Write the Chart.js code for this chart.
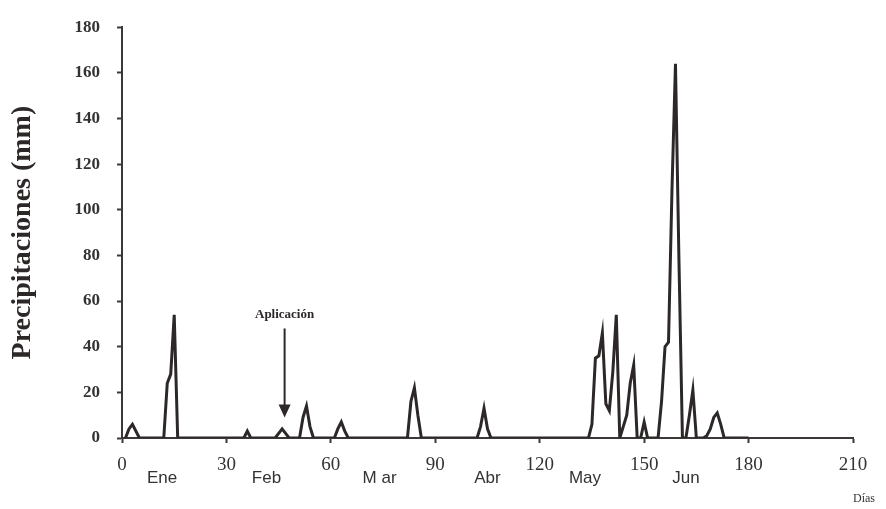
<!DOCTYPE html>
<html lang="es">
<head>
    <meta charset="UTF-8">
    <title>Precipitaciones</title>
    <script src="https://cdn.jsdelivr.net/npm/chart.js"></script>
    <style>
        * { margin: 0; padding: 0; box-sizing: border-box; }
        body { background: #fff; width: 886px; height: 509px; overflow: hidden; }
        #wrap { width: 886px; height: 509px; position: relative; }
    </style>
</head>
<body>
    <div id="wrap"><canvas id="lluviaChart" width="886" height="509"></canvas></div>

    <script>
        // Precipitación diaria (mm); fuera de estos días = 0
        const dias = [1, 2, 3, 4, 5,
            12, 13, 14, 15, 16,
            35, 36, 37,
            44, 45, 46, 47, 48,
            51, 52, 53, 54, 55,
            61, 62, 63, 64, 65,
            82, 83, 84, 85, 86,
            102, 103, 104, 105, 106,
            134, 135, 136, 137, 138, 139, 140, 141, 142, 143, 144, 145, 146, 147, 148,
            149, 150, 151,
            154, 155, 156, 157, 158, 159, 160, 161,
            162, 163, 164, 165,
            167, 168, 169, 170, 171, 172, 173, 180];
        const lluvia = [0, 4, 6, 3, 0,
            0, 24, 28, 54, 0,
            0, 3, 0,
            0, 2, 4, 2, 0,
            0, 9, 14, 5, 0,
            0, 4, 7, 3, 0,
            0, 16, 22, 10, 0,
            0, 5, 13, 4, 0,
            0, 6, 35, 36, 46, 15, 12, 29, 54, 0, 5, 10, 24, 32, 0,
            0, 7, 0,
            0, 16, 40, 42, 109, 164, 78, 0,
            0, 10, 21, 0,
            0, 1, 4, 9, 11, 6, 0, 0];

        const ticksDias = [0, 30, 60, 90, 120, 150, 180, 210];
        const meses = ["Ene", "Feb", "M ar", "Abr", "May", "Jun"];
        const posMeses = [11.5, 41.5, 74, 105, 133, 162];
        const ticksMm = [0, 20, 40, 60, 80, 100, 120, 140, 160, 180];

        // Día de la aplicación y extremos de la flecha (mm)
        const diaAplicacion = 47;
        const flechaDesde = 48;
        const flechaHasta = 9;

        const colorLinea = "#2d2828";
        const colorEje = "#3c3838";

        const textos = {
            id: "textos",
            afterDraw(chart) {
                const ctx = chart.ctx;
                const x = chart.scales.x;
                const y = chart.scales.y;
                ctx.save();
                ctx.fillStyle = "#333";
                ctx.textAlign = "center";
                ctx.textBaseline = "middle";
                ctx.font = "17px 'Liberation Sans', Arial, sans-serif";
                meses.forEach((m, i) => {
                    ctx.fillText(m, x.getPixelForValue(posMeses[i]), 478);
                });

                ctx.font = "12px 'Liberation Serif', serif";
                ctx.fillText("Días", 864, 499);

                // Aplicación + flecha
                const ax = x.getPixelForValue(diaAplicacion) - 1;
                ctx.font = "bold 13px 'Liberation Serif', serif";
                ctx.fillStyle = "#2d2828";
                ctx.fillText("Aplicación", ax, y.getPixelForValue(54));

                const y1 = y.getPixelForValue(flechaDesde);
                const y2 = y.getPixelForValue(flechaHasta);
                ctx.strokeStyle = colorLinea;
                ctx.lineWidth = 2;
                ctx.beginPath();
                ctx.moveTo(ax, y1);
                ctx.lineTo(ax, y2 - 12);
                ctx.stroke();
                ctx.beginPath();
                ctx.moveTo(ax - 6, y2 - 13);
                ctx.lineTo(ax + 6, y2 - 13);
                ctx.lineTo(ax, y2);
                ctx.closePath();
                ctx.fill();
                ctx.restore();
            }
        };

        new Chart(document.getElementById("lluviaChart"), {
            type: "line",
            data: {
                datasets: [{
                    label: "Precipitaciones",
                    data: dias.map((d, i) => ({ x: d, y: lluvia[i] })),
                    borderColor: colorLinea,
                    borderWidth: 3,
                    pointRadius: 0,
                    tension: 0,
                    fill: false
                }]
            },
            options: {
                responsive: false,
                animation: false,
                layout: { padding: { left: 6, top: 22, right: 33, bottom: 0 } },
                plugins: {
                    legend: { display: false },
                    tooltip: { enabled: false }
                },
                scales: {
                    x: {
                        type: "linear",
                        min: 0,
                        max: 210,
                        afterFit: s => { s.height = 71; },
                        afterBuildTicks: s => { s.ticks = ticksDias.map(v => ({ value: v })); },
                        ticks: {
                            color: "#333",
                            padding: 11,
                            font: { family: "'Liberation Serif', serif", size: 19 }
                        },
                        grid: { drawOnChartArea: false, tickLength: 5, tickColor: colorEje, tickWidth: 2 },
                        border: { color: colorEje, width: 2 }
                    },
                    y: {
                        min: 0,
                        max: 180,
                        afterFit: s => { s.width = 116; },
                        afterBuildTicks: s => { s.ticks = ticksMm.map(v => ({ value: v })); },
                        ticks: {
                            color: "#333",
                            padding: 17,
                            font: { family: "'Liberation Serif', serif", size: 17, weight: "bold" }
                        },
                        grid: { drawOnChartArea: false, tickLength: 5, tickColor: colorEje, tickWidth: 2 },
                        border: { color: colorEje, width: 2 },
                        title: {
                            display: true,
                            text: "Precipitaciones (mm)",
                            color: "#2d2828",
                            font: { family: "'Liberation Serif', serif", size: 28, weight: "bold" },
                            padding: { top: 0, bottom: 2 }
                        }
                    }
                }
            },
            plugins: [textos]
        });
    </script>
</body>
</html>
